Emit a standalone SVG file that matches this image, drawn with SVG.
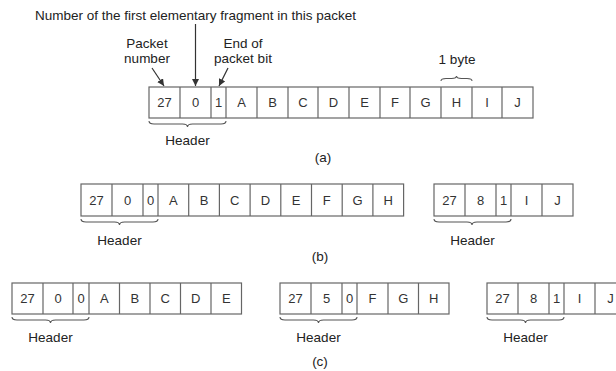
<svg xmlns="http://www.w3.org/2000/svg" width="616" height="371" viewBox="0 0 616 371">
<style>
text{font-family:"Liberation Sans",Arial,sans-serif;fill:#222;}
.lbl{font-size:13.5px;text-anchor:middle;}
.cell{font-size:13px;text-anchor:middle;fill:#333;}
.box{fill:#fff;stroke:#666;stroke-width:1.2;}
.div{stroke:#666;stroke-width:1.2;}
.brace{fill:none;stroke:#555;stroke-width:1.1;}
.arr{stroke:#333;stroke-width:1.2;fill:none;marker-end:url(#ah);}
</style>
<defs>
<marker id="ah" viewBox="0 0 10 10" refX="10" refY="5" markerWidth="7" markerHeight="7" markerUnits="userSpaceOnUse" orient="auto">
<path d="M0,0 L10,5 L0,10 z" fill="#333"/>
</marker>
</defs>
<rect width="616" height="371" fill="#fff"/>

<g id="annotations">
<text class="lbl" x="195.5" y="20">Number of the first elementary fragment in this packet</text>
<text class="lbl" x="147" y="48">Packet</text>
<text class="lbl" x="147" y="63">number</text>
<text class="lbl" x="243" y="48">End of</text>
<text class="lbl" x="243" y="63">packet bit</text>
<text class="lbl" x="457" y="64">1 byte</text>
<text class="lbl" x="323" y="162">(a)</text>
<text class="lbl" x="320" y="260.5">(b)</text>
<text class="lbl" x="320" y="366">(c)</text>
</g>

<g id="connectors">
<path class="arr" d="M195.5,24 L195.5,86"/>
<path class="arr" d="M152,68 L164,86"/>
<path class="arr" d="M228,68 L219,86"/>
<path class="brace" d="M441,81 q0,-2.5 5,-2.5 L451.5,78.5 q5,0 5,-2.5 q0,2.5 5,2.5 L467,78.5 q5,0 5,2.5"/>
</g>

<!-- (a) -->
<g id="packet-a">
<rect class="box" x="149" y="87" width="384" height="31"/>
<path class="div" d="M180,87V118M211,87V118M226,87V118M257,87V118M288,87V118M318,87V118M349,87V118M380,87V118M410,87V118M441,87V118M472,87V118M502,87V118"/>
<g class="cellt">
<text class="cell" x="164.5" y="107">27</text>
<text class="cell" x="195.5" y="107">0</text>
<text class="cell" x="218.5" y="107">1</text>
<text class="cell" x="241.5" y="107">A</text>
<text class="cell" x="272.5" y="107">B</text>
<text class="cell" x="303" y="107">C</text>
<text class="cell" x="333.5" y="107">D</text>
<text class="cell" x="364.5" y="107">E</text>
<text class="cell" x="395" y="107">F</text>
<text class="cell" x="425.5" y="107">G</text>
<text class="cell" x="456.5" y="107">H</text>
<text class="cell" x="487" y="107">I</text>
<text class="cell" x="517.5" y="107">J</text>
</g>
<path class="brace" d="M149,121 q0,3 5,3 L182.5,124 q5,0 5,3 q0,-3 5,-3 L221,124 q5,0 5,-3"/>
<text class="lbl" x="187.5" y="144.5">Header</text>
</g>

<!-- (b) first -->
<g id="packet-b1">
<rect class="box" x="81" y="184" width="322.6" height="32"/>
<path class="div" d="M112,184V216M143,184V216M158,184V216M188.7,184V216M219.4,184V216M250.1,184V216M280.8,184V216M311.5,184V216M342.2,184V216M372.9,184V216"/>
<text class="cell" x="96.5" y="204.5">27</text>
<text class="cell" x="127.5" y="204.5">0</text>
<text class="cell" x="150.5" y="204.5">0</text>
<text class="cell" x="173.3" y="204.5">A</text>
<text class="cell" x="204" y="204.5">B</text>
<text class="cell" x="234.7" y="204.5">C</text>
<text class="cell" x="265.4" y="204.5">D</text>
<text class="cell" x="296.1" y="204.5">E</text>
<text class="cell" x="326.8" y="204.5">F</text>
<text class="cell" x="357.5" y="204.5">G</text>
<text class="cell" x="388.2" y="204.5">H</text>
<path class="brace" d="M81,219 q0,3 5,3 L114.5,222 q5,0 5,3 q0,-3 5,-3 L153,222 q5,0 5,-3"/>
<text class="lbl" x="119.5" y="244.5">Header</text>
</g>

<!-- (b) second -->
<g id="packet-b2">
<rect class="box" x="434" y="184" width="139" height="32"/>
<path class="div" d="M465,184V216M496,184V216M511,184V216M542,184V216"/>
<text class="cell" x="449.5" y="204.5">27</text>
<text class="cell" x="480.5" y="204.5">8</text>
<text class="cell" x="503.5" y="204.5">1</text>
<text class="cell" x="526.5" y="204.5">I</text>
<text class="cell" x="557.5" y="204.5">J</text>
<path class="brace" d="M434,219 q0,3 5,3 L467,222 q5,0 5,3 q0,-3 5,-3 L506,222 q5,0 5,-3"/>
<text class="lbl" x="472.5" y="244.5">Header</text>
</g>

<!-- (c) first -->
<g id="packet-c1">
<rect class="box" x="12" y="283" width="229.5" height="31"/>
<path class="div" d="M43,283V314M73,283V314M89,283V314M119.5,283V314M150,283V314M180.5,283V314M211,283V314"/>
<text class="cell" x="27.5" y="303">27</text>
<text class="cell" x="58" y="303">0</text>
<text class="cell" x="81" y="303">0</text>
<text class="cell" x="104.3" y="303">A</text>
<text class="cell" x="134.8" y="303">B</text>
<text class="cell" x="165.3" y="303">C</text>
<text class="cell" x="195.8" y="303">D</text>
<text class="cell" x="226.3" y="303">E</text>
<path class="brace" d="M12,317 q0,3 5,3 L45.5,320 q5,0 5,3 q0,-3 5,-3 L84,320 q5,0 5,-3"/>
<text class="lbl" x="50.5" y="341.5">Header</text>
</g>

<!-- (c) second -->
<g id="packet-c2">
<rect class="box" x="280" y="283" width="169" height="31"/>
<path class="div" d="M311,283V314M342,283V314M357,283V314M388,283V314M418.5,283V314"/>
<text class="cell" x="295.5" y="303">27</text>
<text class="cell" x="326.5" y="303">5</text>
<text class="cell" x="349.5" y="303">0</text>
<text class="cell" x="372.5" y="303">F</text>
<text class="cell" x="403.3" y="303">G</text>
<text class="cell" x="433.8" y="303">H</text>
<path class="brace" d="M280,317 q0,3 5,3 L313.5,320 q5,0 5,3 q0,-3 5,-3 L352,320 q5,0 5,-3"/>
<text class="lbl" x="318.5" y="341.5">Header</text>
</g>

<!-- (c) third -->
<g id="packet-c3">
<rect class="box" x="487" y="283" width="139" height="31"/>
<path class="div" d="M518,283V314M549,283V314M564,283V314M595,283V314"/>
<text class="cell" x="502.5" y="303">27</text>
<text class="cell" x="533.5" y="303">8</text>
<text class="cell" x="556.5" y="303">1</text>
<text class="cell" x="579.5" y="303">I</text>
<text class="cell" x="610.5" y="303">J</text>
<path class="brace" d="M487,317 q0,3 5,3 L520.5,320 q5,0 5,3 q0,-3 5,-3 L559,320 q5,0 5,-3"/>
<text class="lbl" x="525.5" y="341.5">Header</text>
</g>
</svg>
